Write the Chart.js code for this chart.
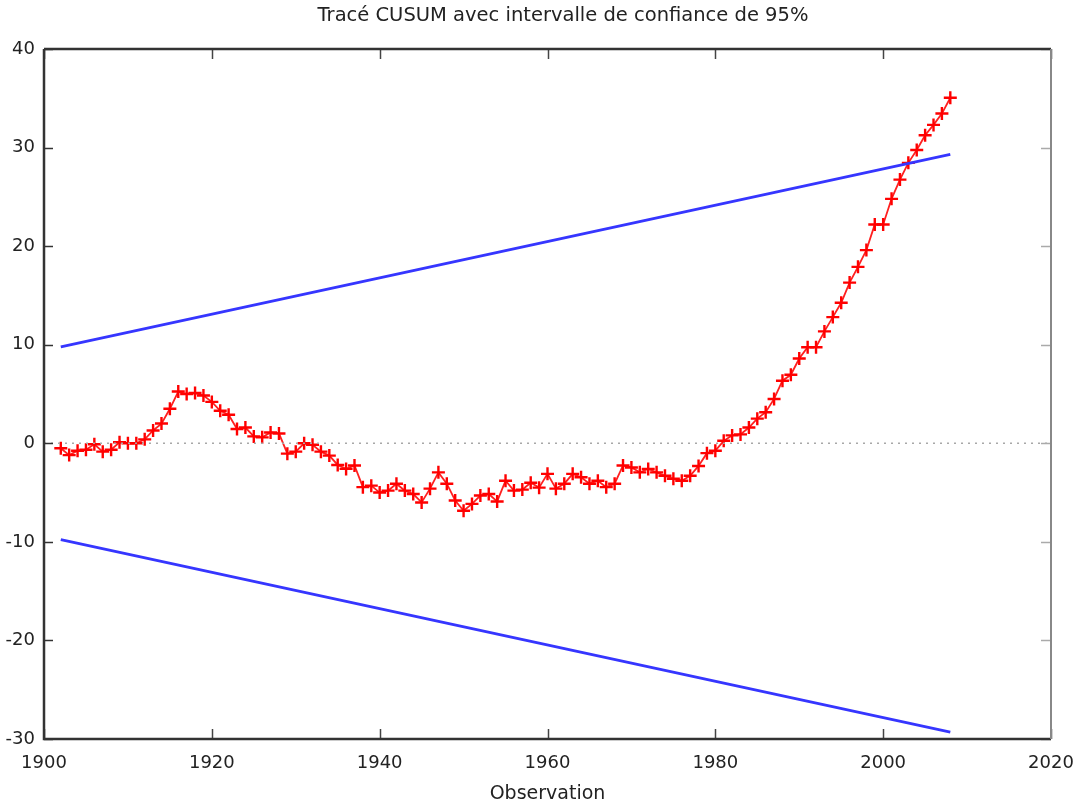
<!DOCTYPE html>
<html>
<head>
<meta charset="utf-8">
<script src="https://cdn.jsdelivr.net/npm/chart.js@4.4.1/dist/chart.umd.min.js"></script>
<style>
  body { margin: 0; background: #fff; }
  #wrap { width: 1075px; height: 803px; }
</style>
</head>
<body>
<div id="wrap"><canvas id="cusum" width="1075" height="803"></canvas></div>
<script>
// CUSUM series, one value per year starting at firstYear
var firstYear = 1902;
var cusum = [
  -0.5, -1.2, -0.75, -0.65, -0.1, -0.85, -0.65, 0.1, 0.0, 0.0,
  0.4, 1.3, 2.0, 3.5, 5.25, 5.0, 5.1, 4.85, 4.2, 3.3,
  2.9, 1.45, 1.6, 0.7, 0.6, 1.1, 1.0, -1.05, -0.85, 0.0,
  -0.15, -0.85, -1.25, -2.2, -2.6, -2.25, -4.45, -4.3, -5.0, -4.8,
  -4.1, -4.8, -5.15, -6.0, -4.6, -2.95, -4.1, -5.8, -6.85, -6.15,
  -5.3, -5.15, -5.9, -3.8, -4.8, -4.7, -4.0, -4.5, -3.1, -4.6,
  -4.1, -3.1, -3.45, -4.1, -3.8, -4.45, -4.1, -2.25, -2.45, -2.95,
  -2.6, -2.95, -3.3, -3.6, -3.8, -3.3, -2.3, -1.0, -0.75, 0.25,
  0.8, 0.9, 1.6, 2.5, 3.15, 4.5, 6.35, 6.95, 8.6, 9.75,
  9.75, 11.35, 12.8, 14.25, 16.3, 17.9, 19.6, 22.2, 22.2, 24.8,
  26.75, 28.45, 29.75, 31.25, 32.3, 33.45, 35.05
];
// 95% confidence bounds (straight lines between the two end years)
var boundYears = [1902, 2008];
var upperBound = [9.77, 29.3];
var lowerBound = [-9.77, -29.3];
var zeroYears = [1900, 2020];
var zeroLine = [0, 0];
var xTicks = [1900, 1920, 1940, 1960, 1980, 2000, 2020];
var yTicks = [-30, -20, -10, 0, 10, 20, 30, 40];
var titleText = 'Tracé CUSUM avec intervalle de confiance de 95%';

function pairs(xs, ys) {
  return ys.map(function (v, i) { return { x: xs[i], y: v }; });
}
var cusumPoints = cusum.map(function (v, i) { return { x: firstYear + i, y: v }; });

var font = 'DejaVu Sans';

// gnuplot-like box with inward ticks, plus the title
var frame = {
  id: 'frame',
  afterDatasetsDraw: function (chart) {
    var ctx = chart.ctx, a = chart.chartArea;
    var xs = chart.scales.x, ys = chart.scales.y;
    ctx.save();
    ctx.lineCap = 'butt';
    ctx.strokeStyle = '#444';
    ctx.lineWidth = 1.5;
    xTicks.forEach(function (t) {
      var px = Math.round(xs.getPixelForValue(t)) + 0.5;
      ctx.beginPath(); ctx.moveTo(px, a.bottom); ctx.lineTo(px, a.bottom - 10); ctx.stroke();
      ctx.beginPath(); ctx.moveTo(px, a.top); ctx.lineTo(px, a.top + 10); ctx.stroke();
    });
    yTicks.forEach(function (t) {
      var py = Math.round(ys.getPixelForValue(t)) + 0.5;
      ctx.strokeStyle = '#333';
      ctx.beginPath(); ctx.moveTo(a.left, py); ctx.lineTo(a.left + 9, py); ctx.stroke();
      ctx.strokeStyle = '#aaa';
      ctx.beginPath(); ctx.moveTo(a.right, py); ctx.lineTo(a.right - 10, py); ctx.stroke();
    });
    ctx.lineWidth = 2.5;
    ctx.strokeStyle = '#333';
    ctx.beginPath();
    ctx.moveTo(a.left, a.top); ctx.lineTo(a.left, a.bottom); ctx.lineTo(a.right, a.bottom);
    ctx.moveTo(a.left, a.top); ctx.lineTo(a.right, a.top);
    ctx.stroke();
    ctx.strokeStyle = '#888';
    ctx.lineWidth = 2;
    ctx.beginPath(); ctx.moveTo(a.right, a.top); ctx.lineTo(a.right, a.bottom); ctx.stroke();

    ctx.fillStyle = '#222';
    ctx.font = '19.5px "' + font + '"';
    ctx.textAlign = 'center';
    ctx.textBaseline = 'middle';
    ctx.fillText(titleText, 563, 16);
    ctx.restore();
  }
};

new Chart(document.getElementById('cusum'), {
  type: 'line',
  data: {
    datasets: [
      {
        data: pairs(zeroYears, zeroLine),
        borderColor: '#a8a8a8', borderWidth: 1.5, borderDash: [2, 5],
        pointRadius: 0
      },
      {
        data: pairs(boundYears, upperBound),
        borderColor: '#3636ff', borderWidth: 2.8, pointRadius: 0
      },
      {
        data: pairs(boundYears, lowerBound),
        borderColor: '#3636ff', borderWidth: 2.8, pointRadius: 0
      },
      {
        data: cusumPoints,
        borderColor: '#ff2020', borderWidth: 1.8,
        pointStyle: 'cross', pointRadius: 6.5, pointBorderWidth: 2.4,
        pointBorderColor: '#ff0000', tension: 0
      }
    ]
  },
  options: {
    responsive: false,
    animation: false,
    events: [],
    layout: { padding: { left: 0, right: 24, top: 49, bottom: 0 } },
    plugins: {
      legend: { display: false },
      tooltip: { enabled: false },
      title: { display: false }
    },
    scales: {
      x: {
        type: 'linear', min: 1900, max: 2020,
        afterBuildTicks: function (s) { s.ticks = xTicks.map(function (v) { return { value: v }; }); },
        afterFit: function (s) { s.height = 64; s.paddingLeft = 0; s.paddingRight = 0; },
        grid: { display: false, drawTicks: false },
        border: { display: false },
        ticks: {
          color: '#222', padding: 14, maxRotation: 0, font: { family: font, size: 18 },
          callback: function (v) { return String(v); }
        },
        title: {
          display: true, text: 'Observation', color: '#222',
          font: { family: font, size: 19, lineHeight: 0.9 }, padding: { top: 0, bottom: 0 }
        }
      },
      y: {
        min: -30, max: 40,
        afterBuildTicks: function (s) { s.ticks = yTicks.map(function (v) { return { value: v }; }); },
        afterFit: function (s) { s.width = 44; s.paddingTop = 0; s.paddingBottom = 0; },
        grid: { display: false, drawTicks: false },
        border: { display: false },
        ticks: {
          color: '#222', padding: 9, font: { family: font, size: 18 },
          callback: function (v) { return String(v); }
        }
      }
    }
  },
  plugins: [frame]
});
</script>
</body>
</html>
